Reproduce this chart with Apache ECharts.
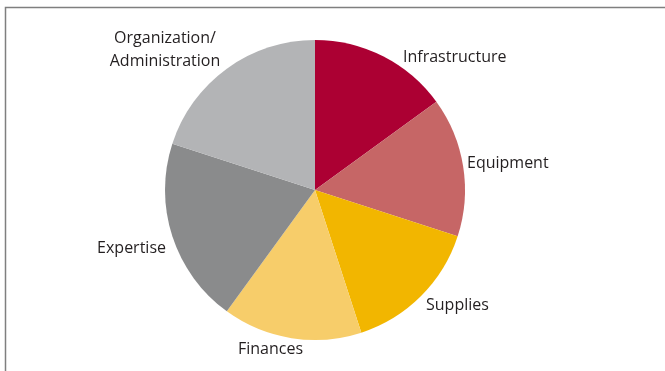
<!DOCTYPE html>
<html>
<head>
<meta charset="utf-8">
<script src="https://cdn.jsdelivr.net/npm/echarts@6/dist/echarts.min.js"></script>
<style>
  html, body { margin: 0; padding: 0; background: #fff; }
  #main { width: 665px; height: 371px; }
</style>
</head>
<body>
<div id="main"></div>
<script>
  // slices, clockwise from 12 o'clock
  var categories = ['Infrastructure', 'Equipment', 'Supplies', 'Finances', 'Expertise', 'Organization/\nAdministration'];
  var shares = [15, 15, 15, 15, 20, 20];
  var sliceColors = ['#AC0033', '#C66666', '#F2B600', '#F7CD6A', '#8A8B8C', '#B3B4B6'];

  var myChart = echarts.init(document.getElementById('main'));

  // where each label sits (anchor x, middle y, alignment)
  var labelSpots = [
    [403, 57, 'left'],
    [467, 163, 'left'],
    [426, 305, 'left'],
    [238, 349, 'left'],
    [166, 248, 'right'],
    [165, 50, 'center']
  ];

  var pieData = categories.map(function (name, i) {
    return { name: name, value: shares[i], itemStyle: { color: sliceColors[i] } };
  });

  var option = {
    backgroundColor: '#fff',
    animation: false,
    graphic: [{
      // the frame round the figure, cut off at right and bottom
      type: 'rect',
      shape: { x: 5.5, y: 7.5, width: 700, height: 400 },
      style: { fill: 'none', stroke: '#7f7f7f', lineWidth: 1.5 },
      silent: true
    }],
    series: [{
      type: 'pie',
      center: [315, 190],
      radius: 150,
      startAngle: 90,
      clockwise: true,
      data: pieData,
      label: {
        show: true,
        position: 'outside',
        color: '#231f20',
        fontFamily: 'Open Sans',
        fontSize: 16,
        lineHeight: 23
      },
      labelLine: { show: false, length: 8, length2: 0 },
      labelLayout: function (params) {
        var s = labelSpots[params.dataIndex];
        return { x: s[0], y: s[1], align: s[2], verticalAlign: 'middle' };
      },
      itemStyle: { borderWidth: 0 },
      emphasis: { disabled: true }
    }]
  };
  myChart.setOption(option);
</script>
</body>
</html>
